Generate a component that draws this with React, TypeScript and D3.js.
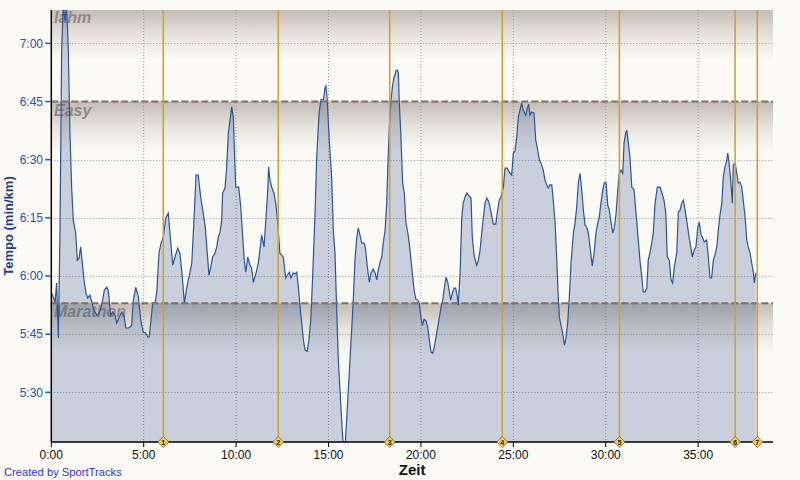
import React from "react";
import * as d3 from "d3";

// elapsed time (minutes)
const times = [
  0.02, 0.11, 0.2, 0.29, 0.38, 0.47, 0.56, 0.65, 0.74, 0.83,
  0.92, 1.01, 1.1, 1.19, 1.32, 1.41, 1.5, 1.59, 1.68, 1.79,
  1.88, 1.97, 2.09, 2.19, 2.31, 2.46, 2.58, 2.73, 2.87, 3.0,
  3.08, 3.21, 3.32, 3.45, 3.54, 3.66, 3.81, 3.93, 4.03, 4.2,
  4.35, 4.44, 4.57, 4.71, 4.84, 4.98, 5.11, 5.22, 5.3, 5.39,
  5.49, 5.61, 5.7, 5.83, 5.94, 6.06, 6.19, 6.33, 6.42, 6.57,
  6.69, 6.84, 6.96, 7.09, 7.2, 7.33, 7.45, 7.6, 7.72, 7.83,
  7.95, 8.08, 8.22, 8.33, 8.44, 8.53, 8.63, 8.73, 8.86, 8.95,
  9.04, 9.13, 9.22, 9.27, 9.4, 9.49, 9.58, 9.67, 9.76, 9.85,
  9.9, 9.98, 10.14, 10.25, 10.36, 10.44, 10.52, 10.63, 10.75, 10.84,
  10.93, 11.08, 11.2, 11.29, 11.38, 11.51, 11.62, 11.71, 11.76, 11.83,
  11.93, 12.05, 12.16, 12.27, 12.37, 12.47, 12.55, 12.68, 12.77, 12.88,
  12.97, 13.09, 13.19, 13.28, 13.37, 13.46, 13.55, 13.64, 13.73, 13.85,
  13.94, 14.04, 14.14, 14.27, 14.36, 14.49, 14.59, 14.72, 14.81, 14.86,
  14.93, 15.04, 15.17, 15.26, 15.35, 15.46, 15.53, 15.71, 15.85, 15.98,
  16.16, 16.34, 16.43, 16.53, 16.61, 16.7, 16.8, 16.94, 17.01, 17.1,
  17.21, 17.3, 17.42, 17.52, 17.61, 17.69, 17.79, 17.88, 17.96, 18.06,
  18.15, 18.2, 18.29, 18.38, 18.47, 18.54, 18.6, 18.65, 18.72, 18.78,
  18.83, 18.91, 19.01, 19.1, 19.19, 19.29, 19.37, 19.5, 19.63, 19.72,
  19.83, 19.91, 20.0, 20.08, 20.17, 20.28, 20.37, 20.45, 20.55, 20.64,
  20.72, 20.82, 20.91, 21.0, 21.09, 21.18, 21.27, 21.36, 21.45, 21.52,
  21.61, 21.7, 21.79, 21.88, 21.97, 22.02, 22.12, 22.21, 22.29, 22.39,
  22.48, 22.56, 22.71, 22.78, 22.89, 23.02, 23.11, 23.2, 23.29, 23.38,
  23.47, 23.56, 23.68, 23.79, 23.92, 24.05, 24.15, 24.24, 24.33, 24.46,
  24.55, 24.67, 24.78, 24.91, 25.0, 25.09, 25.18, 25.27, 25.36, 25.45,
  25.54, 25.67, 25.76, 25.83, 25.9, 25.99, 26.12, 26.21, 26.3, 26.41,
  26.5, 26.62, 26.71, 26.81, 26.89, 26.98, 27.08, 27.16, 27.26, 27.35,
  27.43, 27.49, 27.58, 27.67, 27.76, 27.85, 27.94, 28.03, 28.12, 28.25,
  28.34, 28.43, 28.52, 28.61, 28.7, 28.79, 28.88, 28.97, 29.06, 29.15,
  29.27, 29.37, 29.47, 29.57, 29.65, 29.74, 29.84, 29.92, 30.02, 30.11,
  30.19, 30.29, 30.38, 30.46, 30.56, 30.65, 30.73, 30.83, 30.92, 30.99,
  31.08, 31.14, 31.22, 31.31, 31.41, 31.53, 31.64, 31.76, 31.85, 31.95,
  32.03, 32.13, 32.22, 32.3, 32.4, 32.49, 32.57, 32.67, 32.79, 32.94,
  33.03, 33.15, 33.25, 33.33, 33.44, 33.53, 33.62, 33.71, 33.84, 33.93,
  34.02, 34.11, 34.2, 34.29, 34.38, 34.51, 34.6, 34.68, 34.79, 34.88,
  34.98, 35.06, 35.16, 35.25, 35.33, 35.46, 35.55, 35.64, 35.73, 35.82,
  35.91, 36.01, 36.09, 36.18, 36.28, 36.36, 36.45, 36.55, 36.6, 36.67,
  36.76, 36.85, 36.9, 37.0, 37.09, 37.17, 37.27, 37.36, 37.44, 37.54,
  37.63, 37.71, 37.81, 37.9, 37.99, 38.04, 38.12,
];

// pace (seconds per km)
const paces = [
  355.6, 354.6, 353.0, 358.2, 344.0, 371.1, 418.3, 430, 426.0, 430,
  418.3, 396.9, 382.9, 374.4, 371.1, 364.1, 364.6, 367.5, 363.3, 358.2,
  355.6, 354.3, 355.1, 353.3, 351.2, 349.9, 350.4, 352.5, 356.4, 357.1,
  356.4, 349.9, 350.7, 349.9, 347.9, 349.2, 350.7, 349.9, 346.6, 346.6,
  347.3, 353.8, 357.1, 354.6, 348.6, 345.5, 345.3, 344.3, 344.3, 348.6,
  353.0, 353.0, 355.6, 365.9, 368.5, 370.0, 374.9, 376.2, 371.1, 362.8,
  364.9, 367.2, 365.9, 359.7, 353.0, 357.1, 359.7, 363.3, 374.4, 386.0,
  386.0, 380.4, 376.2, 372.6, 365.9, 360.2, 362.3, 364.9, 365.9, 367.5,
  370.0, 371.3, 374.4, 381.4, 382.7, 388.1, 396.9, 400.2, 403.6, 401.0,
  393.3, 382.9, 382.9, 377.8, 370.0, 364.1, 361.0, 364.9, 362.8, 362.1,
  358.4, 360.8, 363.3, 366.7, 370.6, 367.5, 375.2, 382.2, 388.1, 384.8,
  382.9, 381.4, 378.3, 372.6, 365.9, 365.4, 364.9, 359.5, 360.2, 361.0,
  359.5, 360.8, 360.5, 361.0, 357.1, 352.0, 347.9, 343.5, 340.9, 340.6,
  343.5, 348.6, 359.7, 376.2, 390.7, 402.0, 405.4, 405.4, 408.5, 409.0,
  405.4, 395.1, 385.5, 371.8, 365.9, 348.6, 338.3, 322.8, 312.5, 322.8,
  338.3, 353.8, 364.1, 370.0, 372.4, 370.6, 368.5, 368.5, 366.7, 362.3,
  358.4, 360.8, 361.8, 360.8, 359.0, 361.5, 363.6, 364.9, 368.5, 371.8,
  378.8, 387.3, 398.4, 405.4, 409.2, 411.3, 411.8, 412.9, 413.1, 412.3,
  404.6, 396.9, 384.0, 381.4, 373.7, 371.1, 368.5, 362.3, 356.4, 354.1,
  353.8, 353.0, 349.4, 347.3, 348.9, 348.4, 346.8, 343.5, 340.4, 340.1,
  341.7, 344.3, 346.8, 349.4, 352.0, 353.8, 357.1, 359.7, 358.4, 356.4,
  353.8, 355.6, 356.9, 356.9, 354.6, 352.5, 360.8, 375.2, 378.8, 380.4,
  381.4, 380.9, 380.1, 370.0, 364.9, 362.8, 364.1, 366.7, 371.1, 375.2,
  378.8, 380.1, 379.1, 376.5, 373.4, 373.4, 377.0, 379.6, 380.4, 382.9,
  387.8, 387.8, 386.8, 386.0, 391.7, 392.2, 395.8, 401.0, 402.8, 404.6,
  402.8, 401.5, 403.3, 404.3, 401.5, 402.3, 402.0, 395.1, 393.0, 389.9,
  389.1, 387.3, 384.8, 383.5, 382.7, 383.5, 383.5, 379.6, 373.7, 364.1,
  354.6, 349.4, 347.3, 345.3, 342.2, 344.0, 347.9, 354.6, 363.3, 371.1,
  373.7, 377.8, 384.2, 386.5, 382.2, 377.0, 373.1, 372.6, 371.1, 367.5,
  362.6, 365.9, 371.1, 373.7, 375.2, 378.8, 382.2, 384.0, 384.0, 378.3,
  377.0, 373.7, 371.1, 372.4, 376.2, 382.2, 386.5, 387.3, 386.5, 394.3,
  396.9, 397.6, 394.3, 390.7, 382.9, 382.2, 376.2, 369.3, 364.1, 359.7,
  355.9, 355.9, 356.9, 364.1, 366.2, 368.5, 371.1, 378.8, 382.9, 382.9,
  381.6, 379.6, 376.2, 364.9, 364.1, 359.0, 358.2, 362.3, 365.9, 376.5,
  377.0, 378.8, 379.6, 377.0, 374.4, 370.0, 367.5, 364.9, 366.7, 367.5,
  372.4, 373.9, 370.6, 369.8, 368.8, 369.3, 364.9, 359.5, 359.5, 364.1,
  365.4, 367.5, 371.8, 375.7, 378.8, 385.5, 388.1, 389.9, 391.7, 389.4,
  384.8, 378.8, 388.6, 389.1, 386.5, 384.0, 384.2, 382.9, 379.6, 375.2,
  369.3, 367.5, 365.9, 363.3, 360.8, 358.2, 360.8,
];

const lapTimes = [6.06, 12.28, 18.31, 24.4, 30.74, 37.0, 38.2];
const lapLabels = ["1", "2", "3", "4", "5", "6", "7"];

const xTickValues = [0, 5, 10, 15, 20, 25, 30, 35];
const xTickLabels = ["0:00", "5:00", "10:00", "15:00", "20:00", "25:00", "30:00", "35:00"];
const yTickValues = [330, 345, 360, 375, 390, 405, 420];
const yTickLabels = ["5:30", "5:45", "6:00", "6:15", "6:30", "6:45", "7:00"];

const zoneNames = ["lahm", "Easy", "Marathon"];
const zoneUpper = [428.6, 405, 353];
const zoneLines = [405, 353];

const xDomain = [0, 39.05];
const yDomain = [317.2, 428.6];

const FONT = "'Liberation Sans', Arial, sans-serif";

export default function App() {
  const L = 51.3, R = 773, T = 10, B = 442;
  const x = d3.scaleLinear().domain(xDomain).range([L, R]);
  const y = d3.scaleLinear().domain(yDomain).range([B, T]);
  const data = times.map((t, i) => ({ t, p: paces[i] }));
  const area = d3
    .area<{ t: number; p: number }>()
    .x((d) => x(d.t))
    .y0(B)
    .y1((d) => y(d.p));
  const line = d3
    .line<{ t: number; p: number }>()
    .x((d) => x(d.t))
    .y((d) => y(d.p));

  const zoneRects = zoneNames.map((name, i) => {
    const top = y(zoneUpper[i]);
    const bottom = i < zoneNames.length - 1 ? y(zoneUpper[i + 1]) : B;
    return { name, top, bottom };
  });

  return (
    <svg
      width={800}
      height={480}
      style={{ position: "absolute", left: 0, top: 0, fontFamily: FONT }}
    >
      <defs>
        {zoneRects.map((z, i) => (
          <linearGradient
            key={i}
            id={`zg${i}`}
            gradientUnits="userSpaceOnUse"
            x1={0}
            x2={0}
            y1={z.top}
            y2={z.top + 50}
          >
            <stop offset="0" stopColor="#c4bcb5" />
            <stop offset="0.5" stopColor="#e6e2dc" />
            <stop offset="1" stopColor="#fbfaf5" />
          </linearGradient>
        ))}
        <clipPath id="plotClip">
          <rect x={L} y={T} width={R - L} height={B - T} />
        </clipPath>
      </defs>
      <rect x={0} y={0} width={800} height={480} fill="#fbfaf5" />
      {zoneRects.map((z, i) => (
        <rect
          key={i}
          x={L}
          y={z.top}
          width={R - L}
          height={z.bottom - z.top}
          fill={`url(#zg${i})`}
        />
      ))}
      {/* grid */}
      {xTickValues.slice(1).map((v, i) => (
        <line
          key={"gx" + i}
          x1={x(v)}
          x2={x(v)}
          y1={T}
          y2={B}
          stroke="#9a9a9a"
          strokeWidth={1}
          strokeDasharray="1,2"
        />
      ))}
      {yTickValues.map((v, i) => (
        <line
          key={"gy" + i}
          x1={L}
          x2={R}
          y1={Math.round(y(v)) + 0.5}
          y2={Math.round(y(v)) + 0.5}
          stroke="#9a9a9a"
          strokeWidth={1}
          strokeDasharray="1,2"
        />
      ))}
      {/* zone labels */}
      {zoneRects.map((z, i) => (
        <text
          key={"zl" + i}
          x={54}
          y={z.top + (i === 0 ? 12.5 : 14)}
          fontSize={16}
          fontWeight="bold"
          fontStyle="italic"
          fill="#8f8a86"
        >
          {z.name}
        </text>
      ))}
      <g clipPath="url(#plotClip)">
        <path d={area(data) || ""} fill="rgba(40,75,140,0.24)" />
        <path d={line(data) || ""} fill="none" stroke="#2a5597" strokeWidth={1.2} />
      </g>
      {/* zone dashed lines */}
      {zoneLines.map((v, i) => (
        <line
          key={"zd" + i}
          x1={L}
          x2={R}
          y1={y(v)}
          y2={y(v)}
          stroke="#7e706a"
          strokeWidth={2}
          strokeDasharray="7,3"
        />
      ))}
      {/* lap lines */}
      {lapTimes.map((t, i) => (
        <line
          key={"lap" + i}
          x1={x(t)}
          x2={x(t)}
          y1={T}
          y2={B}
          stroke="#cfa237"
          strokeWidth={1.6}
        />
      ))}
      {/* axes */}
      <line x1={L} x2={L} y1={T} y2={B} stroke="#000" strokeWidth={1.5} />
      <line x1={L} x2={R} y1={B} y2={B} stroke="#000" strokeWidth={1.5} />
      {xTickValues.map((v, i) => (
        <g key={"xt" + i}>
          <line x1={x(v)} x2={x(v)} y1={B} y2={B + 5} stroke="#000" strokeWidth={1} />
          <text x={x(v)} y={459} textAnchor="middle" fontSize={12} fill="#111">
            {xTickLabels[i]}
          </text>
        </g>
      ))}
      {yTickValues.map((v, i) => (
        <g key={"yt" + i}>
          <line x1={L - 6} x2={L} y1={y(v)} y2={y(v)} stroke="#2456a4" strokeWidth={1.5} />
          <text
            x={43}
            y={y(v)}
            dy="0.35em"
            textAnchor="end"
            fontSize={12}
            fill="#2456a4"
          >
            {yTickLabels[i]}
          </text>
        </g>
      ))}
      {/* lap markers */}
      {lapTimes.map((t, i) => (
        <g key={"lm" + i} transform={`translate(${x(t)},${B})`}>
          <path d="M0,-5.5 L5.5,0 L0,5.5 L-5.5,0 Z" fill="#f2cb5a" stroke="#7d6420" strokeWidth={0.8} />
          <text y={2.5} textAnchor="middle" fontSize={7} fontWeight="bold" fill="#222">
            {lapLabels[i]}
          </text>
        </g>
      ))}
      <text x={(L + R) / 2} y={475} textAnchor="middle" fontSize={15} fontWeight="bold" fill="#111">
        Zeit
      </text>
      <text
        transform={`translate(13,${(T + B) / 2}) rotate(-90)`}
        textAnchor="middle"
        fontSize={13}
        fontWeight="bold"
        fill="#1d3f86"
      >
        Tempo (min/km)
      </text>
      <text x={4} y={476} fontSize={11.2} fill="#3535d5">
        Created by SportTracks
      </text>
    </svg>
  );
}
